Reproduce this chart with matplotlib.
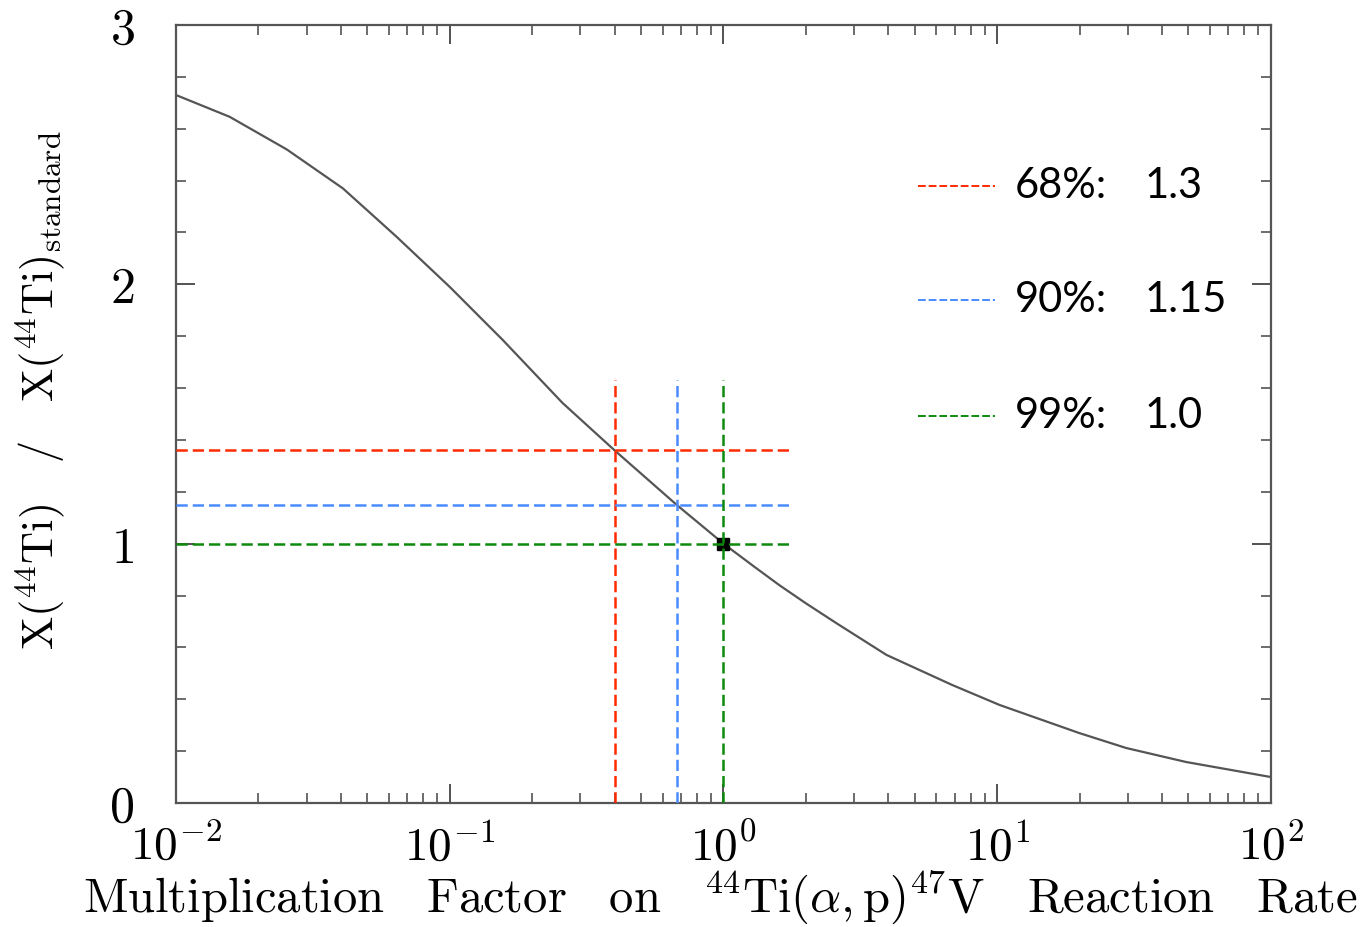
import math
import matplotlib
matplotlib.use("Agg")
import matplotlib.pyplot as plt
from matplotlib.ticker import FixedLocator, LogLocator, NullFormatter, FuncFormatter

plt.rcParams['mathtext.fontset'] = 'cm'

# curve data
rate_factor = [0.01, 0.0157, 0.0254, 0.0407, 0.064, 0.1, 0.156, 0.258, 0.40,
               0.674, 1.0, 1.3, 1.6, 2.0, 2.58, 3.94, 6.85, 10.2, 19.9, 29.6, 49, 100]
ti_ratio = [2.73, 2.646, 2.52, 2.37, 2.183, 1.99, 1.786, 1.543, 1.36,
            1.15, 1.0, 0.91, 0.84, 0.77, 0.694, 0.571, 0.455, 0.378, 0.27, 0.212, 0.158, 0.10]

# confidence levels
levels = ["68%:", "90%:", "99%:"]
level_values = ["1.3", "1.15", "1.0"]
level_y = [1.36, 1.15, 1.0]
level_x = [0.40, 0.674, 1.0]
level_colors = ["#ff2a00", "#4a8cff", "#0d8a0d"]
hline_xmax = 1.79
vline_ymax = 1.63

fig = plt.figure(figsize=(13.68, 9.27), dpi=100)
ax = fig.add_axes([0.1287, 0.1338, 0.929 - 0.1287, 0.973 - 0.1338])

ax.set_xscale('log')
ax.set_xlim(0.01, 100)
ax.set_ylim(0, 3)

ax.plot(rate_factor, ti_ratio, color='#555555', lw=1.6, zorder=3)

for xv, yv, c in zip(level_x, level_y, level_colors):
    ax.plot([0.01, hline_xmax], [yv, yv], color=c, lw=1.8, dashes=(4.5, 2), zorder=4)
    ax.plot([xv, xv], [0, vline_ymax], color=c, lw=1.8, dashes=(4.5, 2), zorder=4)

ax.plot([1.0], [1.0], marker='s', color='black', markersize=8, zorder=3.5)

# legend-like annotations
leg_y = [0.793, 0.647, 0.497]
for lab, val, yy, c in zip(levels, level_values, leg_y, level_colors):
    ax.plot([0.678, 0.748], [yy, yy], transform=ax.transAxes, color=c, lw=1.4,
            dashes=(4, 1.5))
    ax.text(0.766, yy, lab, transform=ax.transAxes, fontsize=30, family='Lato',
            va='center', ha='left')
    ax.text(0.885, yy, val, transform=ax.transAxes, fontsize=30, family='Lato',
            va='center', ha='left')

# ticks
ax.yaxis.set_major_locator(FixedLocator([0, 1, 2, 3]))
ax.yaxis.set_minor_locator(FixedLocator([0.2, 0.4, 0.6, 0.8, 1.2, 1.4, 1.6, 1.8,
                                         2.2, 2.4, 2.6, 2.8]))
ax.xaxis.set_major_locator(LogLocator(base=10, numticks=10))
ax.xaxis.set_minor_locator(LogLocator(base=10, subs=range(2, 10), numticks=100))
ax.xaxis.set_minor_formatter(NullFormatter())
ax.xaxis.set_major_formatter(FuncFormatter(lambda v, p: r'$10^{%d}$' % round(math.log10(v))))
ax.yaxis.set_major_formatter(FuncFormatter(lambda v, p: r'$%d$' % v))

ax.tick_params(which='both', direction='in', top=True, right=True, color='#444444')
ax.tick_params(which='major', length=14, width=1.3)
ax.tick_params(which='minor', length=7, width=1.1)
ax.tick_params(axis='y', which='major', labelsize=36, pad=30)
ax.tick_params(axis='x', which='major', labelsize=34, pad=15)
for s in ax.spines.values():
    s.set_color('#555555')
    s.set_linewidth(1.6)

ax.set_xlabel(r'$\mathrm{Multiplication\ \ \ Factor\ \ \ on\ \ \ {}^{44}Ti(\alpha,p)^{47}V\ \ \ Reaction\ \ \ Rate}$',
              fontsize=35)
ax.xaxis.set_label_coords(0.497, -0.085)
ax.set_ylabel(r'$\mathrm{X(^{44}Ti)\ \ \ /\ \ \ X(^{44}Ti)_{standard}}$', fontsize=32)
ax.yaxis.set_label_coords(-0.1, 0.531)

fig.savefig('out.png', dpi=100)
